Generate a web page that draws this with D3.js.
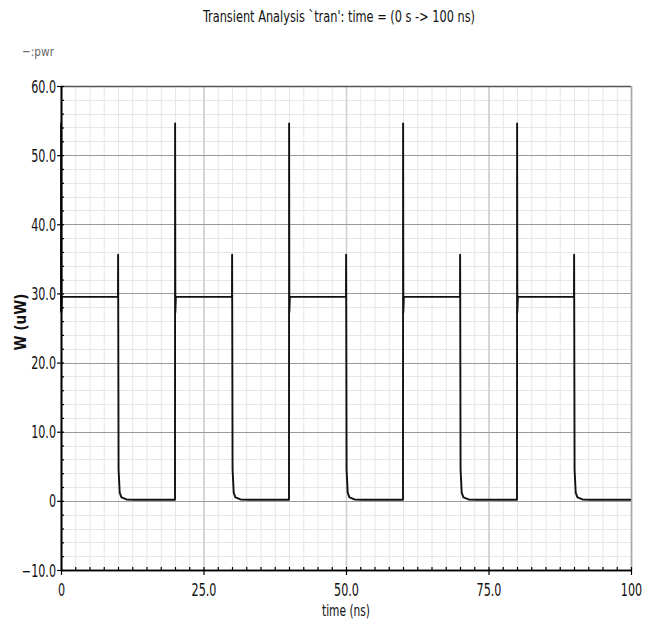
<!DOCTYPE html>
<html>
<head>
<meta charset="utf-8">
<script src="https://cdn.jsdelivr.net/npm/d3@7"></script>
<style>
  html, body { margin: 0; padding: 0; background: #fff; }
  svg { display: block; }
  text { font-family: "DejaVu Sans Condensed", "DejaVu Sans", sans-serif; }
</style>
</head>
<body>
<svg id="chart" width="658" height="628"></svg>
<script>
// ---- data ----
const titleText = "Transient Analysis `tran': time = (0 s -> 100 ns)";
const legendText = "\u2212:pwr";
const xLabel = "time (ns)";
const yLabel = "W (uW)";

const xTicks = [0, 25, 50, 75, 100];
const xTickLabels = ["0", "25.0", "50.0", "75.0", "100"];
const yTicks = [-10, 0, 10, 20, 30, 40, 50, 60];
const yTickLabels = ["\u221210.0", "0", "10.0", "20.0", "30.0", "40.0", "50.0", "60.0"];

// pwr waveform (time in ns, power in uW)
const timeNs = [
  0, 0.02, 0.06, 0.15, 10, 10.02, 10.1, 10.3, 10.6, 11.5, 13, 20,
  20.02, 20.06, 20.15, 30, 30.02, 30.1, 30.3, 30.6, 31.5, 33, 40,
  40.02, 40.06, 40.15, 50, 50.02, 50.1, 50.3, 50.6, 51.5, 53, 60,
  60.02, 60.06, 60.15, 70, 70.02, 70.1, 70.3, 70.6, 71.5, 73, 80,
  80.02, 80.06, 80.15, 90, 90.02, 90.1, 90.3, 90.6, 91.5, 93, 100
];
const powerUW = [
  27.3, 54.6, 27.3, 29.5, 29.5, 35.6, 4.5, 1.2, 0.5, 0.2, 0.15, 0.15,
  54.6, 27.3, 29.5, 29.5, 35.6, 4.5, 1.2, 0.5, 0.2, 0.15, 0.15,
  54.6, 27.3, 29.5, 29.5, 35.6, 4.5, 1.2, 0.5, 0.2, 0.15, 0.15,
  54.6, 27.3, 29.5, 29.5, 35.6, 4.5, 1.2, 0.5, 0.2, 0.15, 0.15,
  54.6, 27.3, 29.5, 29.5, 35.6, 4.5, 1.2, 0.5, 0.2, 0.15, 0.15
];

// ---- layout ----
const svg = d3.select("#chart");
const L = 61, R = 631, T = 86, B = 570;
const x = d3.scaleLinear().domain([0, 100]).range([L, R]);
const y = d3.scaleLinear().domain([-10, 60]).range([B, T]);

const xMinor = d3.range(0, 100.001, 2.5);
const yMinor = d3.range(-10, 60.001, 2);

// squeeze text horizontally (the reference uses a narrow font)
function squeeze(sel, k) {
  sel.each(function () {
    const w = this.getComputedTextLength();
    d3.select(this).attr("textLength", w * k).attr("lengthAdjust", "spacingAndGlyphs");
  });
}
function fitWidth(sel, w) {
  sel.attr("textLength", w).attr("lengthAdjust", "spacingAndGlyphs");
}

// minor grid
const g = svg.append("g");
g.selectAll(".vmin").data(xMinor).join("line")
  .attr("x1", d => x(d) + 0.5).attr("x2", d => x(d) + 0.5)
  .attr("y1", T).attr("y2", B)
  .attr("stroke", "#e6e6e6").attr("stroke-width", 1);
g.selectAll(".hmin").data(yMinor).join("line")
  .attr("x1", L).attr("x2", R)
  .attr("y1", d => Math.round(y(d)) + 0.5).attr("y2", d => Math.round(y(d)) + 0.5)
  .attr("stroke", "#e6e6e6").attr("stroke-width", 1);
// major grid
g.selectAll(".vmaj").data(xTicks).join("line")
  .attr("x1", d => x(d) + 0.5).attr("x2", d => x(d) + 0.5)
  .attr("y1", T).attr("y2", B)
  .attr("stroke", "#cfcfcf").attr("stroke-width", 1.6);
g.selectAll(".hmaj").data(yTicks).join("line")
  .attr("x1", L).attr("x2", R)
  .attr("y1", d => Math.round(y(d)) + 0.5).attr("y2", d => Math.round(y(d)) + 0.5)
  .attr("stroke", "#9a9a9a").attr("stroke-width", 1);

// frame top/right
svg.append("line").attr("x1", L).attr("x2", R).attr("y1", T + 0.5).attr("y2", T + 0.5)
  .attr("stroke", "#555").attr("stroke-width", 1.5);
svg.append("line").attr("x1", R + 0.5).attr("x2", R + 0.5).attr("y1", T).attr("y2", B)
  .attr("stroke", "#aaa").attr("stroke-width", 1.5);

// waveform
const pts = timeNs.map((t, i) => [t, powerUW[i]]);
svg.append("path")
  .datum(pts)
  .attr("fill", "none")
  .attr("stroke", "#111")
  .attr("stroke-width", 1.9)
  .attr("stroke-linejoin", "round")
  .attr("d", d3.line().x(d => x(d[0])).y(d => y(d[1])));

// axes
const yAxis = svg.append("g").attr("transform", `translate(${L},0)`)
  .call(d3.axisLeft(y).tickValues(yTicks).tickFormat((d, i) => yTickLabels[i]).tickSize(4).tickSizeOuter(0).tickPadding(1));
const yMinAx = svg.append("g").attr("transform", `translate(${L},0)`)
  .call(d3.axisLeft(y).tickValues(yMinor).tickFormat("").tickSize(-3).tickSizeOuter(0));
const xAxis = svg.append("g").attr("transform", `translate(0,${B})`)
  .call(d3.axisBottom(x).tickValues(xTicks).tickFormat((d, i) => xTickLabels[i]).tickSize(5).tickSizeOuter(0).tickPadding(9));
const xMinAx = svg.append("g").attr("transform", `translate(0,${B})`)
  .call(d3.axisBottom(x).tickValues(xMinor).tickFormat("").tickSize(-3).tickSizeOuter(0));
[yAxis, yMinAx, xAxis, xMinAx].forEach(a => {
  a.select(".domain").attr("stroke", "#000").attr("stroke-width", 1.6);
  a.selectAll(".tick line").attr("stroke", "#000").attr("stroke-width", 1.2);
  a.selectAll("text").attr("font-size", "17px").attr("fill", "#111")
    .style("font-family", "'DejaVu Sans Condensed', 'DejaVu Sans', sans-serif");
});
yAxis.selectAll("text").attr("dy", "0.36em");
squeeze(yAxis.selectAll("text"), 0.73);
squeeze(xAxis.selectAll("text"), 0.73);

// title
fitWidth(svg.append("text").attr("x", 339).attr("y", 22).attr("text-anchor", "middle")
  .attr("font-size", "16px").attr("fill", "#111").text(titleText), 272);
// legend
fitWidth(svg.append("text").attr("x", 22).attr("y", 56)
  .attr("font-size", "13px").attr("fill", "#666").text(legendText), 32);
// x label
fitWidth(svg.append("text").attr("x", 346).attr("y", 616).attr("text-anchor", "middle")
  .attr("font-size", "16px").attr("fill", "#111").text(xLabel), 48);
// y label
fitWidth(svg.append("text").attr("transform", "translate(26,322) rotate(-90)")
  .attr("text-anchor", "middle").attr("font-size", "15px").attr("font-weight", "bold")
  .attr("fill", "#111").text(yLabel), 57);
</script>
</body>
</html>
